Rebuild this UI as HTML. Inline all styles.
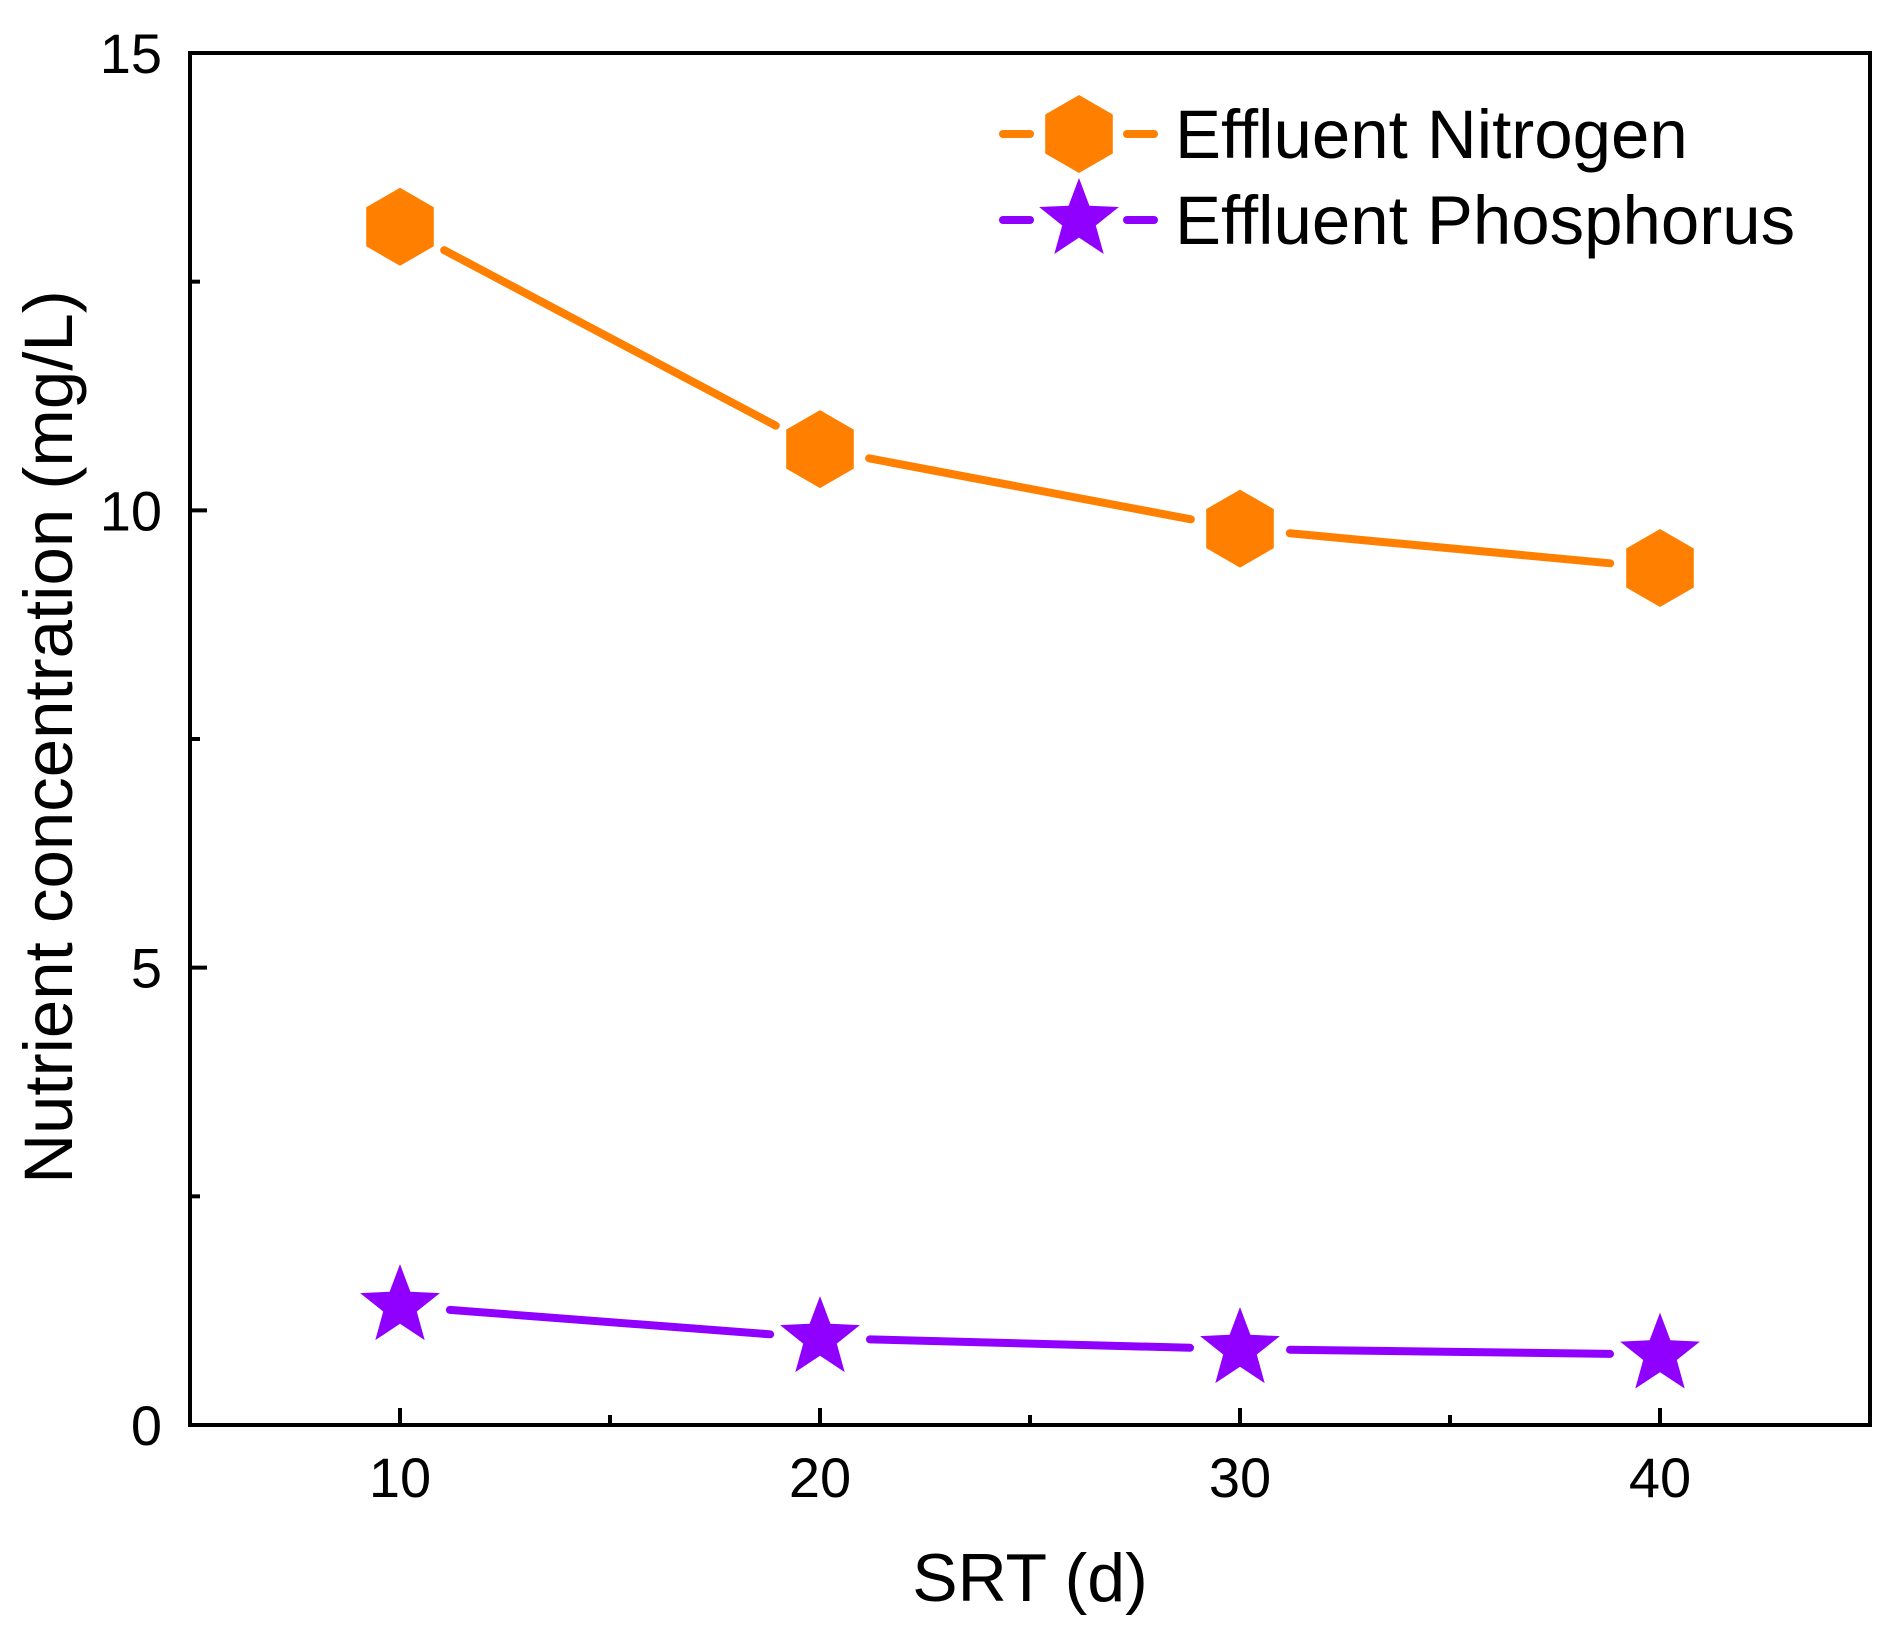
<!DOCTYPE html>
<html><head><meta charset="utf-8"><style>
html,body{margin:0;padding:0;background:#fff}
svg{display:block}
text{font-family:"Liberation Sans",Arial,sans-serif;fill:#000}
</style></head><body>
<svg id="chart" width="1894" height="1634" viewBox="0 0 1894 1634" xmlns="http://www.w3.org/2000/svg">
<g id="plot"></g>
</svg>
<script>
const categories = [10, 20, 30, 40];
const nitrogen = [13.1, 10.67, 9.8, 9.37];
const phosphorus = [1.3, 0.95, 0.83, 0.77];
const yTickLabels = [0, 5, 10, 15];
const xTickLabels = [10, 20, 30, 40];

const L=190,R=1870,T=53,B=1425;
const xMin=5,xMax=45,yMin=0,yMax=15;
const xs=v=>L+(v-xMin)/(xMax-xMin)*(R-L);
const ys=v=>B-(v-yMin)/(yMax-yMin)*(B-T);
const NS="http://www.w3.org/2000/svg";
const g=document.getElementById('plot');
function mk(tag,attrs,parent){const e=document.createElementNS(NS,tag);for(const k in attrs)e.setAttribute(k,attrs[k]);(parent||g).appendChild(e);return e;}
const ORANGE="#FF8000", PURPLE="#8F00FF";

const frame=mk('rect',{x:L,y:T,width:R-L,height:B-T,fill:'none',stroke:'#000','stroke-width':4});



yTickLabels.forEach(v=>{
  const y=ys(v);
  const t=mk('line',{x1:L,x2:L+17,y1:y,y2:y,stroke:'#000','stroke-width':4});
  
  
  const lb=mk('text',{x:162,y:y+20,'text-anchor':'end','font-size':56});
  lb.textContent=v;
  
  
});
for(let i=0;i<yTickLabels.length-1;i++){
  const y=ys((yTickLabels[i]+yTickLabels[i+1])/2);
  const t=mk('line',{x1:L,x2:L+10,y1:y,y2:y,stroke:'#000','stroke-width':4});
  
  
}
xTickLabels.forEach(v=>{
  const x=xs(v);
  const t=mk('line',{x1:x,x2:x,y1:B,y2:B-17,stroke:'#000','stroke-width':4});
  
  
  const lb=mk('text',{x:x,y:1497,'text-anchor':'middle','font-size':56});
  lb.textContent=v;
  
  
});
for(let i=0;i<xTickLabels.length-1;i++){
  const x=xs((xTickLabels[i]+xTickLabels[i+1])/2);
  const t=mk('line',{x1:x,x2:x,y1:B,y2:B-10,stroke:'#000','stroke-width':4});
  
  
}
const xt=mk('text',{x:1030,y:1601,'text-anchor':'middle','font-size':68});
xt.textContent='SRT (d)';


const yt=mk('text',{x:0,y:0,'text-anchor':'middle','font-size':69,transform:'translate(72,737) rotate(-90)'});
yt.textContent='Nutrient concentration (mg/L)';



function hexPts(cx,cy,r){let p=[];for(let i=0;i<6;i++){const a=Math.PI/3*i-Math.PI/2;p.push((cx+r*Math.cos(a)).toFixed(1)+','+(cy+r*Math.sin(a)).toFixed(1));}return p.join(' ');}
function starPts(cx,cy,r){let p=[];const ri=r*0.42;for(let i=0;i<10;i++){const a=Math.PI/5*i-Math.PI/2;const rr=i%2?ri:r;p.push((cx+rr*Math.cos(a)).toFixed(1)+','+(cy+rr*Math.sin(a)).toFixed(1));}return p.join(' ');}
function gapSeg(x1,y1,x2,y2,gap,color,name){
  const dx=x2-x1,dy=y2-y1,d=Math.hypot(dx,dy),ux=dx/d,uy=dy/d;
  const s=mk('line',{x1:x1+ux*gap,y1:y1+uy*gap,x2:x2-ux*gap,y2:y2-uy*gap,stroke:color,'stroke-width':8,'stroke-linecap':'round'});
  
  
}
function series(vals,color,shape,name){
  for(let i=0;i<vals.length-1;i++)gapSeg(xs(categories[i]),ys(vals[i]),xs(categories[i+1]),ys(vals[i+1]),50,color,name+'-line');
  vals.forEach((v,i)=>{
    const cx=xs(categories[i]),cy=ys(v);
    const m=mk('polygon',{points:shape==='hex'?hexPts(cx,cy,39):starPts(cx,cy,42),fill:color});
    
    
  });
}
series(nitrogen,ORANGE,'hex','nitrogen');
series(phosphorus,PURPLE,'star','phosphorus');

function legend(y,color,shape,label,name){
  const a=mk('line',{x1:1003,x2:1030,y1:y,y2:y,stroke:color,'stroke-width':8,'stroke-linecap':'round'});
  
  
  const b=mk('line',{x1:1127,x2:1154,y1:y,y2:y,stroke:color,'stroke-width':8,'stroke-linecap':'round'});
  
  
  const m=mk('polygon',{points:shape==='hex'?hexPts(1079,y,39):starPts(1079,y,42),fill:color});
  
  
  const t=mk('text',{x:1175,y:y+24,'font-size':69});
  t.textContent=label;
  
  
}
legend(134,ORANGE,'hex','Effluent Nitrogen','nitrogen');
legend(220,PURPLE,'star','Effluent Phosphorus','phosphorus');
</script>
</body></html>
